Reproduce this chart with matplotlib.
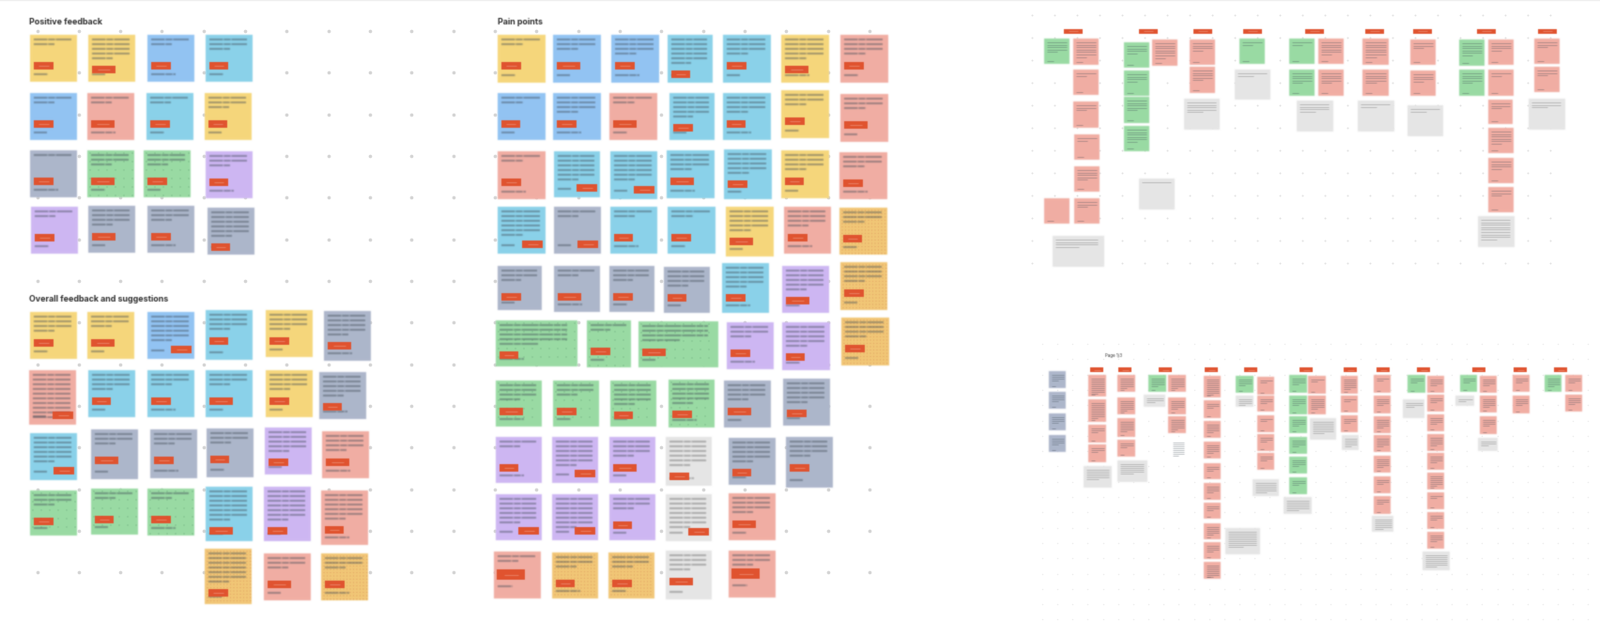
import numpy as np
import matplotlib
matplotlib.use("Agg")
import matplotlib.pyplot as plt
from matplotlib.patches import Rectangle
from matplotlib.collections import PatchCollection, LineCollection

# colours of the sticky notes
palette = {"Y": "#F6D77C", "B": "#93C4F3", "C": "#8BD2EA", "S": "#F1AEA3", "N": "#ADB6CB",
           "G": "#9ADBA4", "P": "#CEB7F3", "O": "#F2C777", "L": "#E6E6E6", "W": "#FFFFFF"}
tag_color = "#E0532F"

# board 1, positive feedback
positive_x = [32, 94, 157, 219, 32, 93, 156, 218, 32, 93, 153, 219, 33, 94, 157, 221]
positive_y = [37, 37, 37, 37, 99, 99, 99, 99, 160, 160, 160, 161, 220, 219, 219, 221]
positive_kinds = "YYBC BSCY NGGP PNNN"
positive_lines = [2, 5, 2, 3, 2, 2, 2, 3, 1, 3, 3, 3, 2, 4, 3, 6]

# board 1, overall feedback and suggestions
overall_x = [32, 93, 157, 219, 283, 345, 31, 94, 157, 219, 283, 340, 32, 97, 160, 220, 282, 343,
             32, 97, 157, 219, 281, 342, 218, 281, 342]
overall_y = [332, 332, 332, 330, 330, 331, 394, 394, 394, 394, 394, 396, 461, 457, 457, 456, 455, 459,
             522, 520, 520, 518, 518, 522, 584, 589, 589]
overall_h = [50, 50, 50, 53, 50, 53, 58, 50, 50, 50, 50, 50, 50, 53, 52, 52, 50, 50,
             48, 49, 50, 58, 58, 58, 59, 50, 50]
overall_kinds = "YYBCYN SCCCYN CNNNPS GGGCPS OSO"
overall_lines = [4, 3, 6, 4, 4, 5, 10, 4, 3, 3, 4, 5, 6, 3, 3, 3, 5, 4, 3, 2, 2, 7, 7, 6, 7, 3, 3]
overall_tag_right = [2, 6, 12]

# board 2, pain points
pain_x = [530, 589, 651, 711, 770, 832, 895, 530, 589, 649, 713, 770, 832, 895,
          530, 590, 650, 710, 771, 832, 894, 530, 590, 650, 711, 773, 835, 894,
          530, 590, 649, 707, 769, 833, 895, 528, 625, 680, 774, 833, 896,
          528, 589, 650, 712, 771, 834, 528, 588, 649, 709, 776, 837,
          528, 588, 649, 709, 776, 526, 588, 648, 709, 776]
pain_y = [37, 37, 37, 37, 37, 37, 37, 99, 99, 99, 99, 99, 96, 100,
          161, 161, 161, 160, 159, 160, 162, 220, 220, 220, 220, 220, 220, 221,
          283, 283, 283, 284, 280, 283, 279, 341, 341, 342, 343, 343, 338,
          405, 405, 405, 404, 405, 403, 465, 465, 465, 465, 466, 465,
          526, 526, 526, 526, 525, 587, 588, 588, 586, 586]
pain_w = [51, 51, 51, 48, 51, 51, 51, 51, 51, 51, 48, 51, 51, 51,
          51, 49, 50, 51, 51, 51, 51, 51, 50, 50, 51, 51, 50, 51,
          47, 49, 48, 49, 50, 50, 50, 87, 47, 85, 50, 51, 51,
          49, 49, 49, 49, 50, 50, 49, 49, 49, 49, 50, 50,
          49, 49, 49, 49, 50, 50, 49, 49, 49, 50]
pain_h = [51, 51, 51, 51, 51, 51, 51, 50, 50, 50, 50, 50, 51, 51,
          51, 49, 51, 51, 53, 51, 50, 50, 50, 50, 50, 53, 50, 50,
          47, 49, 49, 49, 53, 50, 51, 49, 50, 49, 50, 51, 51,
          49, 49, 49, 51, 50, 50, 49, 49, 49, 52, 50, 54,
          49, 49, 49, 50, 50, 50, 49, 49, 52, 50]
pain_kinds = "YBBCCYS BBSCCYS SCCCCYS CNCCYSO NNNNCPO GGGPPO GGGGNN PPPLNN PPPLS SOOLS"
pain_lines = [2, 3, 4, 6, 4, 5, 4, 2, 4, 2, 5, 4, 3, 3,
              2, 6, 6, 4, 5, 4, 3, 6, 2, 2, 2, 5, 4, 3,
              3, 2, 3, 4, 5, 5, 4, 5, 2, 4, 3, 5, 4,
              4, 3, 5, 5, 4, 5, 2, 6, 4, 6, 5, 4,
              6, 7, 3, 7, 4, 2, 3, 3, 4, 3]
pain_tag_right = [15, 16, 21, 22, 48, 53, 54, 56]
pain_big_tags = [58, 62]

# board 3, affinity columns at the top
top_tag_x = [1143, 1223, 1281, 1334, 1400, 1464, 1515, 1583, 1648]
top_x = [1112, 1143, 1143, 1143, 1144, 1144, 1144, 1112, 1121,
         1197, 1197, 1197, 1197, 1227, 1213, 1267, 1267, 1261, 1320, 1315,
         1373, 1404, 1373, 1404, 1381, 1451, 1451, 1446, 1502, 1502, 1499,
         1554, 1554, 1585, 1585, 1585, 1585, 1585, 1585, 1574, 1634, 1634, 1628]
top_y = [41, 41, 74, 108, 143, 177, 211, 211, 251,
         45, 75, 103, 134, 42, 190, 42, 71, 105, 41, 74,
         41, 41, 74, 74, 107, 41, 74, 107, 42, 75, 112,
         42, 74, 42, 74, 106, 136, 168, 199, 230, 41, 71, 105]
top_w = [27, 27, 27, 27, 27, 27, 27, 27, 55,
         27, 27, 27, 27, 27, 38, 27, 27, 38, 27, 38,
         27, 27, 27, 27, 39, 28, 28, 39, 27, 27, 38,
         27, 27, 27, 27, 26, 27, 27, 27, 39, 27, 27, 39]
top_h = [27, 28, 27, 28, 27, 27, 27, 27, 33,
         27, 27, 28, 27, 28, 33, 27, 28, 33, 27, 32,
         27, 27, 28, 28, 33, 28, 28, 33, 27, 27, 33,
         28, 28, 27, 28, 26, 27, 27, 27, 33, 27, 27, 33]
top_kinds = "GSSSSSSSL GGGGSL SSL GL GSGSL SSL SSL GGSSSSSSL SSL"
top_lines = [5, 7, 2, 3, 2, 5, 3, 0, 4,
             4, 4, 5, 6, 7, 1, 4, 5, 5, 2, 2,
             2, 6, 5, 5, 4, 7, 5, 2, 3, 4, 2,
             6, 5, 4, 2, 3, 6, 4, 3, 9, 3, 3, 3]

# board 3, affinity columns at the bottom
bottom_tag_x = [1168, 1198, 1241, 1290, 1332, 1391, 1438, 1473, 1516, 1575, 1619, 1662]
bottom_x = [1117, 1117, 1117, 1117,
            1159, 1159, 1159, 1159, 1154, 1190, 1190, 1190, 1190, 1190,
            1223, 1244, 1244, 1244, 1218, 1246,
            1282, 1282, 1282, 1282, 1282, 1282, 1282, 1282, 1282, 1282, 1305,
            1316, 1316, 1339, 1339, 1339, 1339, 1339, 1334,
            1373, 1373, 1373, 1373, 1373, 1373, 1393, 1393, 1395, 1367,
            1428, 1428, 1428, 1429,
            1463, 1463, 1463, 1463, 1463, 1463, 1463, 1461,
            1499, 1494, 1520, 1520, 1520, 1520, 1520, 1520, 1520, 1520, 1520, 1515,
            1555, 1550, 1576, 1576, 1576, 1574, 1611, 1611, 1645, 1667, 1667]
bottom_y = [395, 417, 440, 463,
            399, 425, 452, 473, 496, 399, 423, 445, 468, 490,
            399, 399, 423, 443, 420, 467,
            400, 426, 448, 470, 493, 514, 535, 557, 577, 598, 562,
            400, 421, 401, 421, 442, 462, 482, 510,
            399, 421, 443, 465, 486, 508, 400, 421, 445, 529,
            400, 421, 442, 463,
            399, 421, 443, 463, 485, 507, 528, 549,
            399, 425, 400, 420, 441, 462, 482, 503, 524, 545, 566, 587,
            399, 421, 400, 421, 443, 466, 399, 421, 399, 399, 420]
bottom_w = [18, 18, 18, 18,
            19, 19, 19, 19, 30, 19, 19, 19, 19, 32,
            19, 19, 19, 19, 23, 16,
            18, 18, 18, 18, 18, 18, 18, 18, 18, 18, 37,
            19, 19, 18, 18, 18, 18, 18, 28,
            19, 19, 19, 19, 19, 19, 19, 19, 28, 30,
            18, 18, 18, 18,
            18, 18, 18, 18, 18, 18, 18, 23,
            19, 23, 18, 18, 18, 18, 18, 18, 18, 18, 18, 29,
            18, 20, 18, 18, 18, 21, 18, 18, 18, 18, 18]
bottom_h = [18, 18, 18, 18,
            23, 24, 19, 19, 23, 18, 18, 20, 18, 23,
            18, 18, 18, 18, 13, 23,
            23, 19, 18, 18, 17, 18, 17, 17, 18, 18, 28,
            18, 12, 19, 17, 18, 18, 18, 18,
            19, 20, 18, 18, 18, 18, 19, 20, 23, 18,
            19, 18, 18, 16,
            19, 19, 18, 18, 18, 18, 19, 17,
            19, 20, 18, 18, 18, 18, 18, 18, 18, 18, 18, 20,
            18, 11, 18, 18, 19, 14, 18, 19, 18, 18, 18]
bottom_kinds = "NNNN SSSSL SSSSL GSSSLW SSSSSSSSSSL GLSSSSSL GGGGGGSSLL SSSL SSSSSSSL GLSSSSSSSSSL GLSSSL SS G SS"
bottom_lines = [4, 4, 4, 4,
                9, 9, 3, 3, 6, 6, 6, 6, 3, 6,
                5, 6, 5, 6, 3, 8,
                9, 3, 5, 5, 3, 4, 3, 5, 4, 7, 9,
                4, 4, 2, 3, 2, 3, 3, 6,
                4, 4, 4, 4, 4, 3, 2, 6, 7, 6,
                6, 2, 3, 5,
                2, 4, 5, 5, 5, 3, 3, 6,
                3, 3, 4, 3, 4, 5, 4, 6, 2, 3, 4, 7,
                3, 2, 4, 5, 4, 3, 3, 4, 5, 3, 4]


def blur(sigma):
    # gaussian blur for agg_filter, the reference is a soft low res screenshot
    radius = int(sigma * 3) + 1
    kernel = np.exp(-0.5 * (np.arange(-radius, radius + 1) / sigma) ** 2)
    kernel /= kernel.sum()

    def apply(img, dpi):
        out = np.pad(img, ((radius, radius), (radius, radius), (0, 0)))
        # blur with premultiplied colour so the edges get no dark halo
        out[..., :3] *= out[..., 3:]
        for axis in (0, 1):
            out = np.apply_along_axis(lambda m: np.convolve(m, kernel, mode="same"), axis, out)
        out[..., :3] /= np.maximum(out[..., 3:], 1e-4)
        return np.clip(out, 0, 1), -radius, -radius
    return apply


fig = plt.figure(figsize=(17.04, 6.78), dpi=100)
ax = fig.add_axes([0, 0, 1, 1])
ax.set_xlim(0, 1704)
ax.set_ylim(678, 0)
ax.axis("off")

# dot grids of the canvas
gx, gy = np.meshgrid(np.arange(39.5, 930, 44.33), np.arange(33, 650, 44.33))
ax.scatter(gx.ravel(), gy.ravel(), s=7, color="#D4D4D4", linewidths=0, zorder=1)
gx, gy = np.meshgrid(np.arange(1099, 1672, 24), np.arange(16, 300, 24))
ax.scatter(gx.ravel(), gy.ravel(), s=2, color="#E2E2E2", linewidths=0, zorder=1)
gx, gy = np.meshgrid(np.arange(1110, 1695, 16.15), np.arange(366, 660, 16.3))
ax.scatter(gx.ravel(), gy.ravel(), s=1.2, color="#EDEDED", linewidths=0, zorder=1)
ax.plot([0, 1704], [0.3, 0.3], color="#EEEEEE", lw=1, zorder=1)

note_patches, note_colors, tag_patches, tag_text = [], [], [], []
big_segments, big_colors, small_segments, small_colors = [], [], [], []
speck_x, speck_y, speck_colors = [], [], []


def stroke(x0, x1, y, color, small=False):
    # a line of note text that cannot be read in the picture
    (small_segments if small else big_segments).append([(x0, y), (x1, y)])
    (small_colors if small else big_colors).append(color)


def add_tag(x, y, w, h):
    tag_patches.append(Rectangle((x, y), w, h))
    tag_text.append([(x + w * 0.25, y + h / 2), (x + w * 0.75, y + h / 2)])


def add_specks(x, y, w, h, step, color):
    # dither of the screenshot on green and orange notes
    px, py = np.meshgrid(np.arange(x + 3, x + w - 1, step), np.arange(y + 3, y + h - 1, step))
    speck_x.extend(px.ravel())
    speck_y.extend(py.ravel())
    speck_colors.extend([color] * px.size)


def add_notes(xs, ys, ws, hs, kinds, lines, pad, gap, tags=False, tag_right=(), big_tags=()):
    kinds = kinds.replace(" ", "")
    for i, kind in enumerate(kinds):
        x, y, w, h = xs[i], ys[i], ws[i], hs[i]
        note_patches.append(Rectangle((x, y), w, h))
        note_colors.append(palette[kind])
        ink = "#3F4A55" if kind != "L" else "#666666"
        if tags and kind == "G":
            add_specks(x, y, w, h, 9, "#7FBF8C")
        if tags and kind == "O":
            add_specks(x, y, w, h, 3.5, "#E8B06A")
        for n in range(lines[i]):
            end = 0.86 if n < lines[i] - 1 or lines[i] == 1 else 0.5
            stroke(x + pad, x + w * end + pad * 0.3, y + pad + 1 + n * gap, ink, not tags)
        if tags:
            if i in big_tags:
                add_tag(x + 3, y + 19, 30, 11)
                stroke(x + 4, x + 20, y + h - 13, ink)
            elif i in tag_right:
                add_tag(x + w - 25, y + h - 14, 22, 7.5)
                stroke(x + 4, x + 18, y + h - 9, ink)
            else:
                top = max(29, 8 + gap * lines[i])
                add_tag(x + 4, y + top, [21, 25, 21, 20][i % 4], 7.5)
                stroke(x + 4, x + 4 + [15, 14, 26][i % 3], y + h - 8, ink)
        elif kind not in "LW":
            stroke(x + pad, x + pad + w * 0.25, y + h - pad, ink, True)


add_notes(positive_x, positive_y, [50] * 16, [50] * 16, positive_kinds, positive_lines, 4, 5, tags=True)
add_notes(overall_x, overall_y, [50] * 27, overall_h, overall_kinds, overall_lines, 4, 5, tags=True,
          tag_right=overall_tag_right)
add_notes(pain_x, pain_y, pain_w, pain_h, pain_kinds, pain_lines, 4, 5, tags=True,
          tag_right=pain_tag_right, big_tags=pain_big_tags)
add_notes(top_x, top_y, top_w, top_h, top_kinds, top_lines, 3, 2.6)
add_notes(bottom_x, bottom_y, bottom_w, bottom_h, bottom_kinds, bottom_lines, 2.5, 2)

for x in top_tag_x:
    add_tag(x - 10, 30.5, 20, 5.5)
for x in bottom_tag_x:
    add_tag(x - 7, 391, 14, 5)

notes = PatchCollection(note_patches, facecolors=note_colors, edgecolors="none", zorder=2)
notes.set_agg_filter(blur(0.8))
ax.add_collection(notes)

specks = ax.scatter(speck_x, speck_y, s=1.5, c=speck_colors, linewidths=0, alpha=0.7, zorder=2.5)
specks.set_agg_filter(blur(0.4))

big_ink = LineCollection(big_segments, colors=big_colors, linewidths=1.3, alpha=0.5,
                         linestyles=[(0, (8, 0.5, 4, 0.5, 10, 0.5))], zorder=3)
big_ink.set_agg_filter(blur(0.8))
ax.add_collection(big_ink)

small_ink = LineCollection(small_segments, colors=small_colors, linewidths=0.8, alpha=0.3, zorder=3)
small_ink.set_agg_filter(blur(0.5))
ax.add_collection(small_ink)

tags = PatchCollection(tag_patches, facecolors=tag_color, edgecolors="none", zorder=4)
tags.set_agg_filter(blur(0.6))
ax.add_collection(tags)

tag_lines = LineCollection(tag_text, colors="#F5B7A5", linewidths=0.7, alpha=0.45, zorder=5)
tag_lines.set_agg_filter(blur(0.6))
ax.add_collection(tag_lines)

titles = [("Positive feedback", 31, 23.5, 6.4), ("Overall feedback and suggestions", 31, 318.5, 6.4),
          ("Pain points", 530, 23.5, 6.4), ("Page 1/3", 1177, 378.5, 3.2)]
for label, x, y, size in titles:
    t = ax.text(x, y, label, fontsize=size, fontweight="bold" if size > 5 else "normal", family="Inter",
                color="#333333", va="center", ha="left", zorder=6)
    t.set_agg_filter(blur(0.55))

fig.savefig("out.png", dpi=100, facecolor="white")
